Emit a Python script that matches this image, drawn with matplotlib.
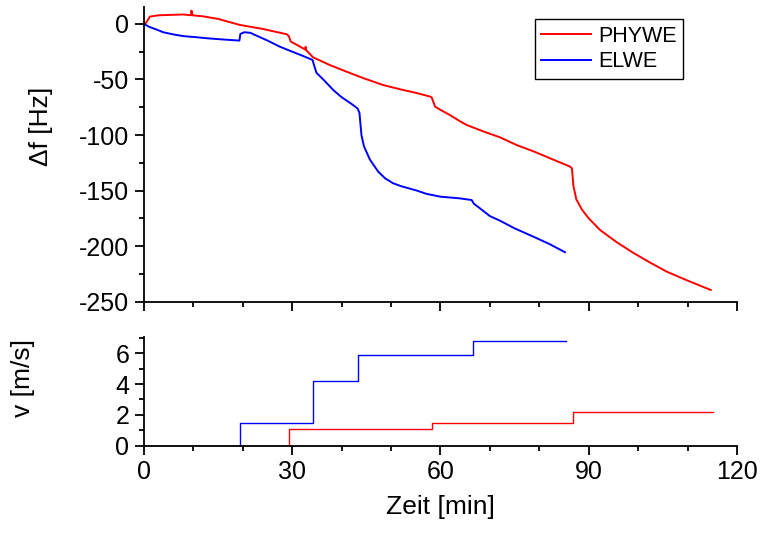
import matplotlib
matplotlib.use("Agg")
import matplotlib.pyplot as plt
from matplotlib.ticker import MultipleLocator

plt.rcParams['font.family'] = ['Liberation Sans', 'DejaVu Sans']
plt.rcParams['axes.unicode_minus'] = False

# frequency shift data
red_t = [0, 0.4, 1.2, 3, 5.3, 8, 9.5, 9.6, 9.8, 12, 15, 19.4, 24, 28.9, 29.3, 29.7,
         31, 32.6, 32.7, 32.8, 34.2, 37.6, 41, 44.5, 48.4, 51.8, 55, 57.9, 58.2, 58.9,
         60, 61.9, 63.9, 65.3, 69.3, 72, 75.4, 79, 82.2, 86.2, 86.6, 86.9, 87.5, 88.6,
         90, 92.3, 95.5, 99, 102.5, 105.8, 110, 114.7]
red_df = [0, 1, 6.6, 7.8, 8.1, 8.5, 7.8, 12, 7.8, 6.8, 4.5, -0.9, -4.5, -9.3, -11, -15.9,
          -19, -23, -20.5, -23.5, -30, -37, -43, -49, -55, -58.8, -62, -65.4, -66, -74.4,
          -77.4, -82, -87.5, -91, -97.8, -102, -109, -115, -121, -128.4, -130, -146, -158, -167,
          -175, -185.5, -196, -206, -215, -223, -231, -239.5]

blue_t = [0, 1, 2.5, 3.9, 6, 8, 10.7, 13, 16, 19.3, 19.5, 20.3, 21.5, 23, 25, 27.5, 30,
          32, 34.1, 34.4, 34.9, 36.5, 38.3, 40, 42, 43.2, 43.6, 44, 44.5, 45.7, 47.4,
          48.8, 50.4, 52, 55.2, 57.2, 60, 63.9, 66.3, 66.8, 68, 70, 72, 75, 78.8, 82, 85.2]
blue_df = [0, -2.5, -5, -7.5, -9.5, -11, -12, -13, -14, -15, -9, -7.5, -8, -11, -15, -20.5, -25,
           -28.5, -32.4, -37, -44, -51, -59.5, -66, -72, -76, -80, -100, -110, -122, -133,
           -139, -143.4, -146, -150, -153, -155.5, -157, -158.5, -162, -166, -173, -177, -184,
           -191.5, -198, -205.5]

# velocity steps
red_vt = [0, 29.4, 58.3, 86.9, 115.1]
red_v = [0, 1.1, 1.5, 2.2, 2.2]
blue_vt = [0, 19.4, 34.2, 43.4, 66.6, 85.3]
blue_v = [0, 1.5, 4.2, 5.9, 6.8, 6.8]

RED = '#ff0000'
BLUE = '#0000ff'

fig = plt.figure(figsize=(7.6, 5.33), dpi=100)
ax1 = fig.add_axes([0.1895, 0.434, 0.7802, 0.553])
ax2 = fig.add_axes([0.1895, 0.1638, 0.7802, 0.2034])


def style(ax):
    for s in ['top', 'right']:
        ax.spines[s].set_visible(False)
    for s in ['left', 'bottom']:
        ax.spines[s].set_linewidth(1.3)
    ax.tick_params(which='major', length=6.5, width=1.3, labelsize=18, pad=4)
    ax.tick_params(which='minor', length=3.5, width=1.3)
    ax.xaxis.set_major_locator(MultipleLocator(30))
    ax.xaxis.set_minor_locator(MultipleLocator(10))
    ax.set_xlim(0, 120)


ax1.plot(red_t, red_df, color=RED, lw=1.4, label='PHYWE')
ax1.plot(blue_t, blue_df, color=BLUE, lw=1.4, label='ELWE')
style(ax1)
ax1.set_ylim(-250, 15.3)
ax1.yaxis.set_major_locator(MultipleLocator(50))
ax1.yaxis.set_minor_locator(MultipleLocator(25))
ax1.tick_params(axis='x', labelbottom=False)
ax1.set_ylabel('\u0394f [Hz]', fontsize=19)
ax1.yaxis.set_label_coords(-0.153, 0.596)
leg = ax1.legend(loc='upper right', bbox_to_anchor=(0.909, 0.958), fontsize=15.5,
                 frameon=True, fancybox=False, edgecolor='black', framealpha=1,
                 handlelength=2.3, handletextpad=0.35, borderpad=0.3, labelspacing=0.2,
                 borderaxespad=0)
leg.get_frame().set_linewidth(1.0)

ax2.plot(blue_vt, blue_v, color=BLUE, lw=1.0, drawstyle='steps-post')
ax2.plot(red_vt, red_v, color=RED, lw=1.0, drawstyle='steps-post')
style(ax2)
ax2.set_ylim(0, 7.04)
ax2.yaxis.set_major_locator(MultipleLocator(2))
ax2.yaxis.set_minor_locator(MultipleLocator(1))
ax2.set_ylabel('v [m/s]', fontsize=19)
ax2.yaxis.set_label_coords(-0.184, 0.625)
ax2.set_xlabel('Zeit [min]', fontsize=19, labelpad=8)

fig.savefig('out.png', dpi=100)
